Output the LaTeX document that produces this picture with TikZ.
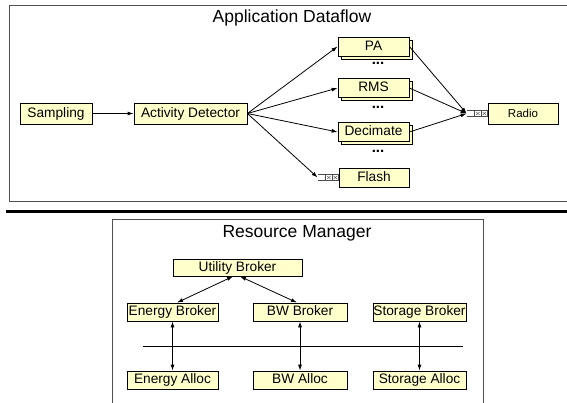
\documentclass[tikz,border=0pt]{standalone}
\usepackage{fontspec}
\setmainfont{Liberation Sans}
\usetikzlibrary{arrows.meta,shadows}
\definecolor{boxfill}{RGB}{255,255,204}
\definecolor{framegray}{RGB}{80,80,80}

\begin{document}
\begin{tikzpicture}[x=1pt,y=-1pt,line width=0.8pt,
    >={Latex[length=6pt,width=4pt]},
    box/.style={draw=black,fill=boxfill,inner sep=0pt,text height=10pt,text depth=3pt,
      font=\fontsize{13.7}{16}\selectfont},
    stack/.style={box,copy shadow={shadow xshift=3pt,shadow yshift=-3pt,draw=black,fill=boxfill}},
    frame/.style={draw=framegray},
    title/.style={font=\fontsize{17.5}{20}\selectfont},
    dots/.style={anchor=base,font=\fontsize{15}{15}\selectfont\bfseries},
    qcell/.style={draw=black!70,line width=0.5pt,fill=white},
    qx/.style={draw=black!70,line width=0.4pt}]
  \useasboundingbox (0,0) rectangle (567,402);
  \clip (0,0) rectangle (567,402);

  % frames
  \draw[frame] (9,5) rectangle (580,201);
  \draw[line width=3pt] (6,211) -- (580,211);
  \draw[frame] (112,219) rectangle (483,420);
  \node[title] (apptitle) at (292,18) {Application Dataflow};
  \node[title] (rmtitle) at (297,233) {Resource Manager};

  % application dataflow
  \node[box,minimum width=72pt,minimum height=21pt] (samp) at (56,113.5) {Sampling};
  \node[box,minimum width=113pt,minimum height=21pt] (act) at (190.5,113.5) {Activity Detector};
  \node[stack,minimum width=71pt,minimum height=19pt] (pa) at (373.5,46.5) {PA};
  \node[stack,minimum width=71pt,minimum height=19pt] (rms) at (373.5,88) {RMS};
  \node[stack,minimum width=71pt,minimum height=19pt] (dec) at (373.5,132) {Decimate};
  \node[box,minimum width=70pt,minimum height=19pt] (flash) at (374,177.5) {Flash};
  \node[box,minimum width=70pt,minimum height=21pt,font=\fontsize{11.5}{14}\selectfont] (radio) at (523,113.5) {Radio};
  \node[dots] (dots1) at (378,64.5) {...};
  \node[dots] (dots2) at (378,108) {...};
  \node[dots] (dots3) at (378,152) {...};

  % queues
  \foreach \q in {radio,flash} {
    \coordinate (\q q) at ([xshift=-21pt]\q.west);
    \draw[qx] ([yshift=3pt]\q q) -- ([yshift=3pt]\q.west)
              ([yshift=-3pt]\q q) -- ([yshift=-3pt]\q.west);
    \foreach \c in {-13,-6.5} {
      \draw[qcell] ([xshift=\c pt,yshift=3pt]\q.west) rectangle ++(6.5pt,-6pt);
      \draw[qx] ([xshift=\c pt,yshift=3pt]\q.west) ++(1.5pt,-1.5pt) -- ++(3.5pt,-3pt)
                ++(0pt,3pt) -- ++(-3.5pt,-3pt);
    }
  }

  \begin{scope}[->]
    \draw (samp) to (act);
    \draw (act.east) to (pa.west);
    \draw (act.east) to (rms.west);
    \draw (act.east) to (dec.west);
    \draw (act.east) to (flashq);
    \draw (pa.east) to (radioq);
    \draw (rms.east) to (radioq);
    \draw (dec.east) to (radioq);
  \end{scope}

  % resource manager
  \node[box,minimum width=129pt,minimum height=17pt] (ub) at (237.5,267.5) {Utility Broker};
  \node[box,minimum width=91pt,minimum height=18pt] (eb) at (172.5,312) {Energy Broker};
  \node[box,minimum width=94pt,minimum height=18pt] (bwb) at (300,312) {BW Broker};
  \node[box,minimum width=93pt,minimum height=18pt] (sb) at (419.5,312) {Storage Broker};
  \node[box,minimum width=91pt,minimum height=18pt] (ea) at (172.5,380) {Energy Alloc};
  \node[box,minimum width=94pt,minimum height=18pt] (bwa) at (300,380) {BW Alloc};
  \node[box,minimum width=93pt,minimum height=18pt] (sa) at (419.5,380) {Storage Alloc};
  \draw (143,346) -- (463,346);

  \begin{scope}[<->]
    \draw ([xshift=-4.5pt]ub.south) to ([xshift=4.5pt]eb.north);
    \draw ([xshift=2.5pt]ub.south) to ([xshift=-3pt]bwb.north);
    \draw (eb) to (ea);
    \draw (bwb) to (bwa);
    \draw (sb) to (sa);
  \end{scope}
\end{tikzpicture}
\end{document}
